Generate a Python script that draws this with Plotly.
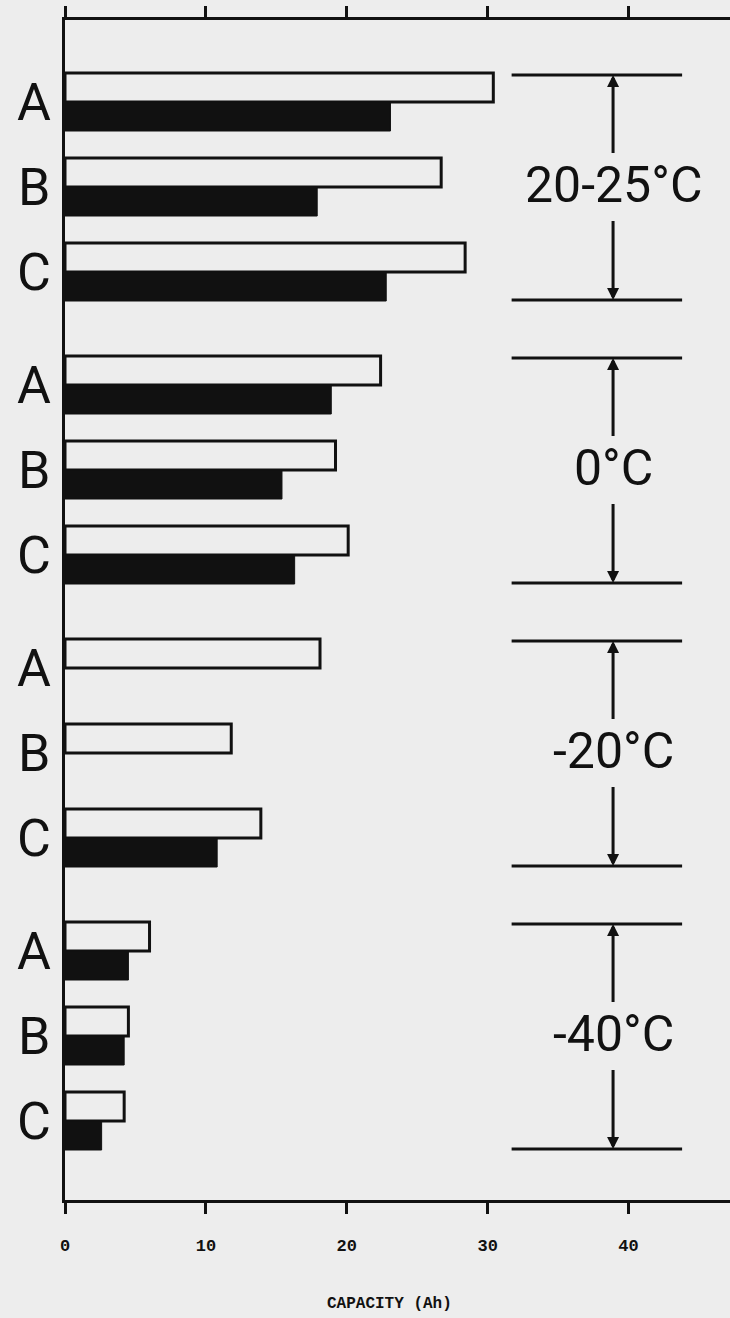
import plotly.graph_objects as go

# ---- data ----
temperatures = ["20-25°C", "0°C", "-20°C", "-40°C"]
cells = ["A", "B", "C"]
open_bars = [            # outlined (white) bars, capacity in Ah
    [30.4, 26.7, 28.4],
    [22.4, 19.2, 20.1],
    [18.1, 11.8, 13.9],
    [6.0, 4.5, 4.2],
]
solid_bars = [           # filled (black) bars, capacity in Ah
    [23.1, 17.9, 22.8],
    [18.9, 15.4, 16.3],
    [None, None, 10.8],
    [4.5, 4.2, 2.6],
]
tick_values = [0, 10, 20, 30, 40]
x_title = "CAPACITY (Ah)"

# ---- layout constants (y axis in pixel-like units, 0 at top) ----
INK = "#111111"
BG = "#ededed"
TOP_OFFSET = 53
ROW_PITCH = 85
GROUP_PITCH = 283
BAR_H = 29
PLOT_H = 1180
BRACKET_X0, BRACKET_X1, ARROW_X = 31.7, 43.8, 38.9
LABEL_X_PAPER = -0.046

fig = go.Figure()

yw, xw, yb, xb = [], [], [], []
annotations = []
shapes = []
for g, temp in enumerate(temperatures):
    gtop = TOP_OFFSET + g * GROUP_PITCH
    for r, cell in enumerate(cells):
        rtop = gtop + r * ROW_PITCH
        yw.append(rtop + BAR_H / 2)
        xw.append(open_bars[g][r])
        yb.append(rtop + BAR_H * 1.5)
        xb.append(solid_bars[g][r])
        annotations.append(dict(x=LABEL_X_PAPER, y=rtop + 29, xref="paper", yref="y",
                                text=cell, showarrow=False,
                                font=dict(family="Roboto", size=52, color=INK),
                                xanchor="center", yanchor="middle"))
    top_line = gtop + 2
    bot_line = gtop + 2 * ROW_PITCH + 2 * BAR_H - 1
    mid = (top_line + bot_line) / 2
    for yl in (top_line, bot_line):
        shapes.append(dict(type="line", xref="x", yref="y", x0=BRACKET_X0, x1=BRACKET_X1,
                           y0=yl, y1=yl, line=dict(color=INK, width=3)))
    annotations.append(dict(x=ARROW_X, y=mid - 3, xref="x", yref="y", text=temp,
                            showarrow=False, xanchor="center", yanchor="middle",
                            font=dict(family="Roboto", size=50, color=INK)))
    for tip, start in ((top_line, mid - 33), (bot_line, mid + 32)):
        annotations.append(dict(x=ARROW_X, y=tip, ax=ARROW_X, ay=start,
                                xref="x", yref="y", axref="x", ayref="y",
                                text="", showarrow=True, arrowhead=2, arrowsize=0.8,
                                arrowwidth=3, arrowcolor=INK, standoff=0))

fig.add_trace(go.Bar(x=xw, y=yw, orientation="h", width=BAR_H, base=0,
                     marker=dict(color=BG, line=dict(color=INK, width=3)),
                     showlegend=False, hoverinfo="x"))
fig.add_trace(go.Bar(x=xb, y=yb, orientation="h", width=BAR_H, base=0,
                     marker=dict(color=INK, line=dict(color=INK, width=1)),
                     showlegend=False, hoverinfo="x"))

annotations.append(dict(x=23, y=-0.088, xref="x", yref="paper", text=x_title,
                        showarrow=False, xanchor="center", yanchor="middle",
                        font=dict(family="Liberation Mono", size=16, color=INK, weight="bold")))

fig.update_layout(
    width=730, height=1318,
    margin=dict(l=65, r=0, t=20, b=118),
    paper_bgcolor=BG, plot_bgcolor=BG,
    barmode="overlay",
    annotations=annotations,
    shapes=shapes,
    xaxis=dict(range=[0, 47.2], showline=True, linewidth=3, linecolor=INK,
               ticks="outside", ticklen=11, tickwidth=3, tickcolor=INK,
               mirror="ticks", tickvals=tick_values, showgrid=False, zeroline=False,
               tickfont=dict(family="Liberation Mono", size=17, color=INK, weight="bold"),
               ticklabelstandoff=17),
    yaxis=dict(range=[PLOT_H, 0], showline=True, linewidth=3, linecolor=INK,
               showgrid=False, zeroline=False, showticklabels=False, ticks=""),
)

fig.write_html("out.html", config={"displayModeBar": False},
               post_script="document.body.style.margin='0';document.body.style.background='%s';" % BG)
